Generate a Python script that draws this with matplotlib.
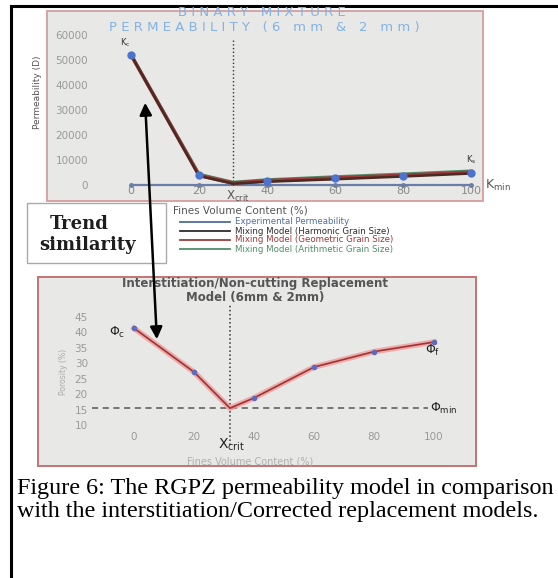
import matplotlib

matplotlib.use("Agg")
import matplotlib.pyplot as plt
from matplotlib.lines import Line2D
from matplotlib.patches import FancyArrowPatch, Rectangle

W, H = 558, 578

# --- top panel: binary mixture permeability (6 mm & 2 mm) ---
fines_exp = [0, 20, 40, 60, 80, 100]
perm_exp = [52000, 4000, 1800, 2800, 3800, 5000]
perm_min = [0, 0, 0, 0, 0, 0]
fines_mod = [0, 20, 30, 40, 60, 80, 100]
perm_harmonic = [52000, 3600, 500, 1300, 2300, 3400, 4600]
perm_geometric = [52000, 3900, 800, 1700, 2800, 3900, 5100]
perm_arithmetic = [52000, 4300, 1100, 2100, 3300, 4400, 5600]
x_crit_top = 30
perm_ticks = [0, 10000, 20000, 30000, 40000, 50000, 60000]
fines_ticks = [0, 20, 40, 60, 80, 100]

# --- bottom panel: interstitiation / non-cutting replacement model ---
fines_por = [0, 20, 32, 40, 60, 80, 100]
porosity = [41.4, 27.2, 15.5, 18.8, 28.8, 33.8, 36.9]
x_crit_bot = 32
phi_min = 15.5
por_ticks = [10, 15, 20, 25, 30, 35, 40, 45]

legend_labels = ["Experimental Permeability",
                 "Mixing Model (Harmonic Grain Size)",
                 "Mixing Model (Geometric Grain Size)",
                 "Mixing Model (Arithmetic Grain Size)"]
legend_colors = ["#4f6d9c", "#2e2b2b", "#9a3a3a", "#4f8f6a"]

PANEL_BG = "#e8e8e6"
TICK = "#9a9a9a"


def fx(x):
    return x / W


def fy(y):
    return 1 - y / H


def px_axes(fig, l, t, r, b):
    ax = fig.add_axes([fx(l), fy(b), (r - l) / W, (b - t) / H])
    ax.patch.set_visible(False)
    for s in ax.spines.values():
        s.set_visible(False)
    ax.tick_params(length=0, colors=TICK)
    return ax


fig = plt.figure(figsize=(W / 100, H / 100), dpi=100)
fig.patch.set_facecolor("white")

# panel backgrounds
fig.add_artist(Rectangle((fx(47), fy(201)), 436 / W, 190 / H, transform=fig.transFigure,
                         facecolor=PANEL_BG, edgecolor="#d6a4a4", linewidth=1.4, zorder=0))
fig.add_artist(Rectangle((fx(38), fy(466)), 438 / W, 189 / H, transform=fig.transFigure,
                         facecolor=PANEL_BG, edgecolor="#c47474", linewidth=1.4, zorder=0))

# page frame lines
fig.add_artist(Line2D([fx(11), fx(11)], [fy(6), 0], transform=fig.transFigure,
                      color="black", linewidth=2.2))
fig.add_artist(Line2D([fx(11), 1], [fy(6), fy(6)], transform=fig.transFigure,
                      color="black", linewidth=2.2))

# ---------- top chart ----------
ax = px_axes(fig, 95, 30, 480, 197)
ax.set_xlim(-10.6, 102.6)
ax.set_ylim(-4800, 62000)
ax.spines["bottom"].set_position(("data", 0))
ax.set_xticks(fines_ticks)
ax.set_xticklabels([str(v) for v in fines_ticks], fontsize=8, color="#8a8a8a")
ax.set_yticks(perm_ticks)
ax.set_yticklabels([str(v) for v in perm_ticks], fontsize=7.5)
ax.tick_params(axis="x", pad=1)
ax.tick_params(axis="y", pad=5)

ax.plot(fines_exp, perm_min, color="#6a7fa8", linewidth=1.6, marker="o",
        markersize=2.5, zorder=2)
ax.vlines(x_crit_top, 0, 58000, colors="#333333", linestyles=":", linewidth=1)
ax.plot(fines_mod, perm_arithmetic, color=legend_colors[3], linewidth=2.2, zorder=3)
ax.plot(fines_mod, perm_geometric, color=legend_colors[2], linewidth=2.6, zorder=4)
ax.plot(fines_mod, perm_harmonic, color="#4a2a22", linewidth=1.8, zorder=5)
ax.plot(fines_exp, perm_exp, linestyle="none", marker="o", markersize=5,
        color="#4a74d0", zorder=6)

ax.text(-1.8, 56800, r"K$_{\rm c}$", fontsize=6, color="#333333", ha="center", va="center")
ax.text(100, 10000, r"K$_{\rm s}$", fontsize=6, color="#333333", ha="center", va="center")
ax.text(104, 0, r"K$_{\rm min}$", fontsize=9, color="#555555", ha="left", va="center",
        clip_on=False)
ax.text(x_crit_top + 1.5, -1500, r"X$_{\rm crit}$", fontsize=8.5, color="#555555",
        ha="center", va="top")

fig.text(fx(262), fy(12.5), " ".join("BINARY MIXTURE"), fontsize=9.5,
         color="#84b2e4", ha="center", va="center")
fig.text(fx(264), fy(28), " ".join("PERMEABILITY (6 mm & 2 mm)").replace("     ", "   "),
         fontsize=9.5, color="#84b2e4", ha="center", va="center")
fig.text(fx(38), fy(92), "Permeability (D)", rotation=90, fontsize=6.5,
         color="#555555", ha="center", va="center")

# x label and legend under the top chart
fig.text(fx(173), fy(211), "Fines Volume Content (%)", fontsize=7.5,
         color="#555555", ha="left", va="center")
for i, (lab, col) in enumerate(zip(legend_labels, legend_colors)):
    y = 222 + i * 9
    fig.add_artist(Line2D([fx(180), fx(230)], [fy(y), fy(y)], transform=fig.transFigure,
                          color=col, linewidth=1.3))
    fig.text(fx(235), fy(y), lab, fontsize=6.2, color=col, ha="left", va="center")

# trend similarity box
fig.add_artist(Rectangle((fx(27), fy(263)), 139 / W, 60 / H, transform=fig.transFigure,
                         facecolor="white", edgecolor="#aaaaaa", linewidth=1, zorder=1))
fig.text(fx(79), fy(224), "Trend", fontsize=13, fontweight="bold", family="DejaVu Serif",
         color="#1e1e1e", ha="center", va="center", zorder=2)
fig.text(fx(88), fy(245), "similarity", fontsize=13, fontweight="bold",
         family="DejaVu Serif", color="#1e1e1e", ha="center", va="center", zorder=2)

# ---------- bottom chart ----------
bx = px_axes(fig, 92, 305, 470, 429)
bx.set_xlim(-14, 112)
bx.set_ylim(8.75, 48.9)
bx.set_xticks(fines_ticks)
bx.set_xticklabels([str(v) for v in fines_ticks], fontsize=7.5)
bx.set_yticks(por_ticks)
bx.set_yticklabels([str(v) for v in por_ticks], fontsize=7.5)
bx.tick_params(axis="x", pad=2)
bx.tick_params(axis="y", pad=3)

bx.hlines(phi_min, -14, 98, colors="#555555", linestyles=(0, (4, 3)), linewidth=1.1)
bx.vlines(x_crit_bot, 3.5, 48.9, colors="#333333", linestyles=":", linewidth=1.1,
          clip_on=False)
bx.plot(fines_por, porosity, color="#f19a9a", linewidth=4, alpha=0.8, zorder=3)
bx.plot(fines_por, porosity, color="#9c3434", linewidth=1.2, zorder=4)
mark_x = [x for x in fines_por if x != x_crit_bot]
mark_y = [p for x, p in zip(fines_por, porosity) if x != x_crit_bot]
bx.plot(mark_x, mark_y, linestyle="none", marker="o", markersize=3,
        color="#5a6cc0", zorder=5)

bx.text(-5.7, 40.1, r"$\Phi_{\rm c}$", fontsize=9, color="#222222", ha="center", va="center")
bx.text(99.5, 34.2, r"$\Phi_{\rm f}$", fontsize=9, color="#222222", ha="center", va="center")
bx.text(98.5, phi_min, r"$\Phi_{\rm min}$", fontsize=9, color="#222222", ha="left",
        va="center", clip_on=False)
bx.text(x_crit_bot + 0.5, 3.6, r"X$_{\rm crit}$", fontsize=10, color="#222222",
        ha="center", va="center", clip_on=False)

fig.text(fx(255), fy(283), "Interstitiation/Non-cutting Replacement", fontsize=8.5,
         fontweight="bold", color="#555555", ha="center", va="center")
fig.text(fx(255), fy(298), "Model (6mm & 2mm)", fontsize=8.5, fontweight="bold",
         color="#555555", ha="center", va="center")
fig.text(fx(63), fy(372), "Porosity (%)", rotation=90, fontsize=5.5, color="#aaaaaa",
         ha="center", va="center")
fig.text(fx(250), fy(461), "Fines Volume Content (%)", fontsize=7, color="#b0b0b0",
         ha="center", va="center")

# double-headed arrow linking the two trends
fig.add_artist(FancyArrowPatch((fx(145), fy(100)), (fx(157), fy(342)),
                               transform=fig.transFigure, arrowstyle="<|-|>",
                               mutation_scale=18, color="black", linewidth=1.8,
                               zorder=10))

# caption
cap = dict(family="Liberation Serif", fontsize=17.4, color="black", ha="left", va="baseline")
fig.text(fx(17), fy(494), "Figure 6: The RGPZ permeability model in comparison", **cap)
fig.text(fx(17), fy(517), "with the interstitiation/Corrected replacement models.", **cap)

fig.savefig("out.png", dpi=100)
